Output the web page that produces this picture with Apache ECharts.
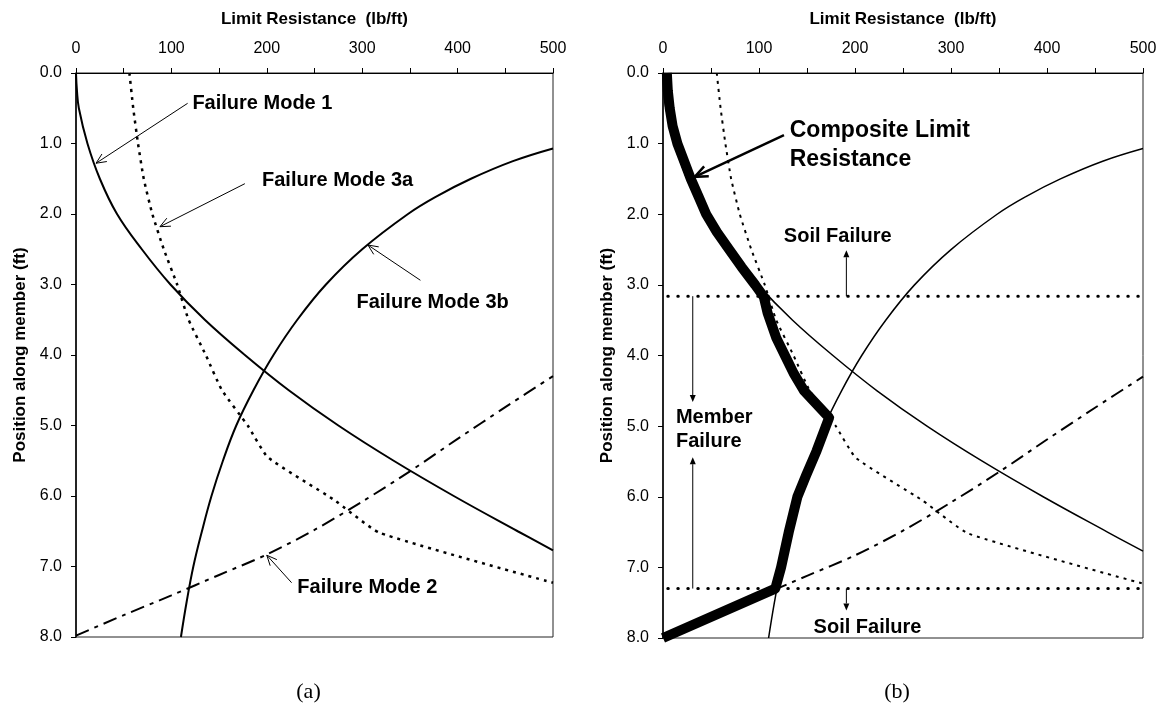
<!DOCTYPE html>
<html>
<head>
<meta charset="utf-8">
<script src="https://cdn.jsdelivr.net/npm/echarts@6/dist/echarts.min.js"></script>
<style>
  html, body { margin: 0; padding: 0; background: #fff; }
  #chart { width: 1160px; height: 719px; }
</style>
</head>
<body>
<div id="chart"></div>
<script>
// Limit resistance (lb/ft) against position along member (ft), one array per curve.
const mode1Depth = [0, 0.25, 0.5, 1.0, 1.5, 2.0, 2.5, 3.0, 3.5, 4.0, 4.5, 5.0, 5.5, 6.0, 6.5, 6.77];
const mode1Res   = [0, 1, 3, 12, 25, 43, 69, 99, 135, 177, 223, 275, 333, 396, 463, 500];

const mode3bDepth = [1.07, 1.25, 1.5, 1.75, 2.0, 2.5, 3.0, 3.5, 4.0, 4.5, 5.0, 5.5, 6.0, 6.5, 7.0, 7.5, 8.0];
const mode3bRes   = [500, 458, 414, 378, 348, 300, 262, 232, 207, 186, 168, 154, 142, 132, 123, 116, 110];

const mode3aDepth = [0, 0.5, 1.0, 1.5, 2.0, 2.5, 3.0, 3.5, 4.0, 4.5, 5.0, 5.45, 6.05, 6.52, 7.23];
const mode3aRes   = [56, 60, 65, 71, 80, 92, 106, 118, 136, 153, 180, 201, 270, 318, 500];

const mode2Res   = [0, 50, 100, 150, 200, 250, 300, 350, 400, 450, 500];
const mode2Depth = [7.98, 7.69, 7.41, 7.12, 6.83, 6.48, 6.08, 5.65, 5.19, 4.74, 4.30];

const compositeDepth = [0, 0.25, 0.5, 0.75, 1.0, 1.25, 1.5, 1.75, 2.0, 2.25, 2.5, 2.75, 3.0, 3.17,
                        3.4, 3.75, 4.0, 4.25, 4.5, 4.88, 5.35, 5.7, 6.0, 6.5, 7.0, 7.3, 8.0];
const compositeRes   = [4, 5, 7, 10, 15, 22, 29, 37, 45, 56, 69, 82, 96, 105,
                        109, 118, 127, 136, 147, 173, 160, 149, 140, 131, 123, 117, 0];

// Depths where the governing mechanism switches between soil and member failure
const soilFailureDepths = [3.16, 7.30];

const resistanceRange = [0, 500, 100];   // min, max, interval
const depthRange = [0, 8, 1];
const panelLabels = ['(a)', '(b)'];

const FONT = '"Liberation Sans", Arial, Helvetica, sans-serif';
const pairs = (xs, ys) => xs.map((x, i) => [x, ys[i]]);

const grids = [
  { left: 76, top: 73, width: 477, height: 564 },
  { left: 663, top: 73, width: 480, height: 565 }
];

function xAxisFor(i) {
  return {
    gridIndex: i, type: 'value', position: 'top',
    min: resistanceRange[0], max: resistanceRange[1], interval: resistanceRange[2],
    name: 'Limit Resistance  (lb/ft)', nameLocation: 'middle', nameGap: 45,
    nameTextStyle: { fontFamily: FONT, fontWeight: 'bold', fontSize: 17, color: '#000' },
    axisLine: { show: true, lineStyle: { color: '#000', width: 1 } },
    axisTick: { show: true, length: 5, lineStyle: { color: '#000' } },
    minorTick: { show: true, splitNumber: 2, length: 5, lineStyle: { color: '#000' } },
    axisLabel: { fontFamily: FONT, fontSize: 16, color: '#000', margin: 16 },
    splitLine: { show: false }
  };
}

function yAxisFor(i) {
  return {
    gridIndex: i, type: 'value', inverse: true,
    min: depthRange[0], max: depthRange[1], interval: depthRange[2],
    name: 'Position along member (ft)', nameLocation: 'middle', nameGap: 47,
    nameTextStyle: { fontFamily: FONT, fontWeight: 'bold', fontSize: 17, color: '#000' },
    axisLine: { show: true, lineStyle: { color: '#000', width: 1.5 } },
    axisTick: { show: true, length: 5, lineStyle: { color: '#000' } },
    axisLabel: { fontFamily: FONT, fontSize: 16, color: '#000', margin: 14,
                 formatter: v => v.toFixed(1) },
    splitLine: { show: false }
  };
}

function curve(i, name, xs, ys, style, smooth, z) {
  return {
    type: 'line', name, xAxisIndex: i, yAxisIndex: i,
    data: pairs(xs, ys), showSymbol: false, symbol: 'none',
    smooth: smooth || false, lineStyle: Object.assign({ color: '#000' }, style),
    z: z || 2, animation: false, silent: true
  };
}

const series = [];
[0, 1].forEach(i => {
  const w = i === 0 ? 2 : 1.5;
  series.push(curve(i, 'Failure Mode 1', mode1Res, mode1Depth, { width: w }, 0.4));
  series.push(curve(i, 'Failure Mode 3b', mode3bRes, mode3bDepth, { width: w }, 0.4));
  series.push(curve(i, 'Failure Mode 3a', mode3aRes, mode3aDepth, { width: i === 0 ? 2.5 : 2, type: [3, 5] }, 0.15));
  series.push(curve(i, 'Failure Mode 2', mode2Res, mode2Depth, { width: 2, type: [14, 6, 4, 6] }, 0.3));
});
soilFailureDepths.forEach(d => {
  series.push(curve(1, 'Soil Failure', [5, 500], [d, d], { width: 3, type: [0.5, 9.5], cap: 'round' }, false, 3));
});
const composite = curve(1, 'Composite Limit Resistance', compositeRes, compositeDepth,
  { width: 10, join: 'round', cap: 'butt' }, false, 4);
composite.clip = false;
series.push(composite);

const chart = echarts.init(document.getElementById('chart'), null, { renderer: 'canvas' });
chart.setOption({
  backgroundColor: '#fff',
  animation: false,
  grid: grids.map(g => Object.assign({ show: true, borderColor: '#222', borderWidth: 1, backgroundColor: 'transparent' }, g)),
  xAxis: [xAxisFor(0), xAxisFor(1)],
  yAxis: [yAxisFor(0), yAxisFor(1)],
  series
});

// ---- annotations, anchored in data coordinates ----
const px = (g, p) => chart.convertToPixel({ gridIndex: g }, p);
const graphics = [];

function text(g, p, str, size, align) {
  const [x, y] = px(g, p);
  graphics.push({
    type: 'text', x, y, z: 10, silent: true,
    style: { text: str, font: 'bold ' + size + 'px ' + FONT, fill: '#000',
             align: align, verticalAlign: 'middle', textAlign: align, textVerticalAlign: 'middle' }
  });
}

function arrow(g, from, to, opts) {
  const [x1, y1] = px(g, from);
  const [x2, y2] = px(g, to);
  const dx = x2 - x1, dy = y2 - y1, L = Math.hypot(dx, dy);
  const ux = dx / L, uy = dy / L, nx = -uy, ny = ux;
  const bx = x2 - ux * opts.len, by = y2 - uy * opts.len;
  const a = [bx + nx * opts.half, by + ny * opts.half];
  const b = [bx - nx * opts.half, by - ny * opts.half];
  const endX = opts.filled ? bx : x2, endY = opts.filled ? by : y2;
  graphics.push({ type: 'line', z: 10, silent: true,
    shape: { x1, y1, x2: endX, y2: endY }, style: { stroke: '#000', lineWidth: opts.width } });
  if (opts.filled) {
    graphics.push({ type: 'polygon', z: 10, silent: true,
      shape: { points: [a, [x2, y2], b] }, style: { fill: '#000' } });
  } else {
    graphics.push({ type: 'polyline', z: 10, silent: true,
      shape: { points: [a, [x2, y2], b] }, style: { stroke: '#000', fill: null, lineWidth: opts.width, lineJoin: 'miter' } });
  }
}

const openThin = { len: 10, half: 4.5, width: 1, filled: false };
const filledThin = { len: 7, half: 3, width: 1, filled: true };

// panel (a): labels for each failure mode
text(0, [122, 0.43], 'Failure Mode 1', 20, 'left');
arrow(0, [117, 0.43], [21, 1.28], openThin);
text(0, [195, 1.52], 'Failure Mode 3a', 20, 'left');
arrow(0, [177, 1.57], [88, 2.18], openThin);
text(0, [294, 3.25], 'Failure Mode 3b', 20, 'left');
arrow(0, [361, 2.94], [306, 2.44], openThin);
text(0, [232, 7.30], 'Failure Mode 2', 20, 'left');
arrow(0, [226, 7.23], [200, 6.84], openThin);

// panel (b): composite curve and governing failure zones
text(1, [132, 0.81], 'Composite Limit', 23, 'left');
text(1, [132, 1.22], 'Resistance', 23, 'left');
arrow(1, [126, 0.88], [33, 1.47], { len: 13, half: 5.5, width: 2.5, filled: false });
text(1, [182, 2.31], 'Soil Failure', 20, 'center');
arrow(1, [191, 3.16], [191, 2.51], filledThin);
arrow(1, [31, 3.16], [31, 4.66], filledThin);
text(1, [13.5, 4.88], 'Member', 20, 'left');
text(1, [13.5, 5.22], 'Failure', 20, 'left');
arrow(1, [31, 7.30], [31, 5.44], filledThin);
arrow(1, [191, 7.30], [191, 7.61], filledThin);
text(1, [213, 7.85], 'Soil Failure', 20, 'center');

// panel captions
panelLabels.forEach((lab, i) => {
  const g = grids[i];
  graphics.push({ type: 'text', x: g.left + g.width / 2 - 6, y: 692, z: 10, silent: true,
    style: { text: lab, font: '22px "Liberation Serif", "Times New Roman", serif', fill: '#000',
             align: 'center', verticalAlign: 'middle', textAlign: 'center', textVerticalAlign: 'middle' } });
});

chart.setOption({ graphic: { elements: graphics } });
</script>
</body>
</html>
